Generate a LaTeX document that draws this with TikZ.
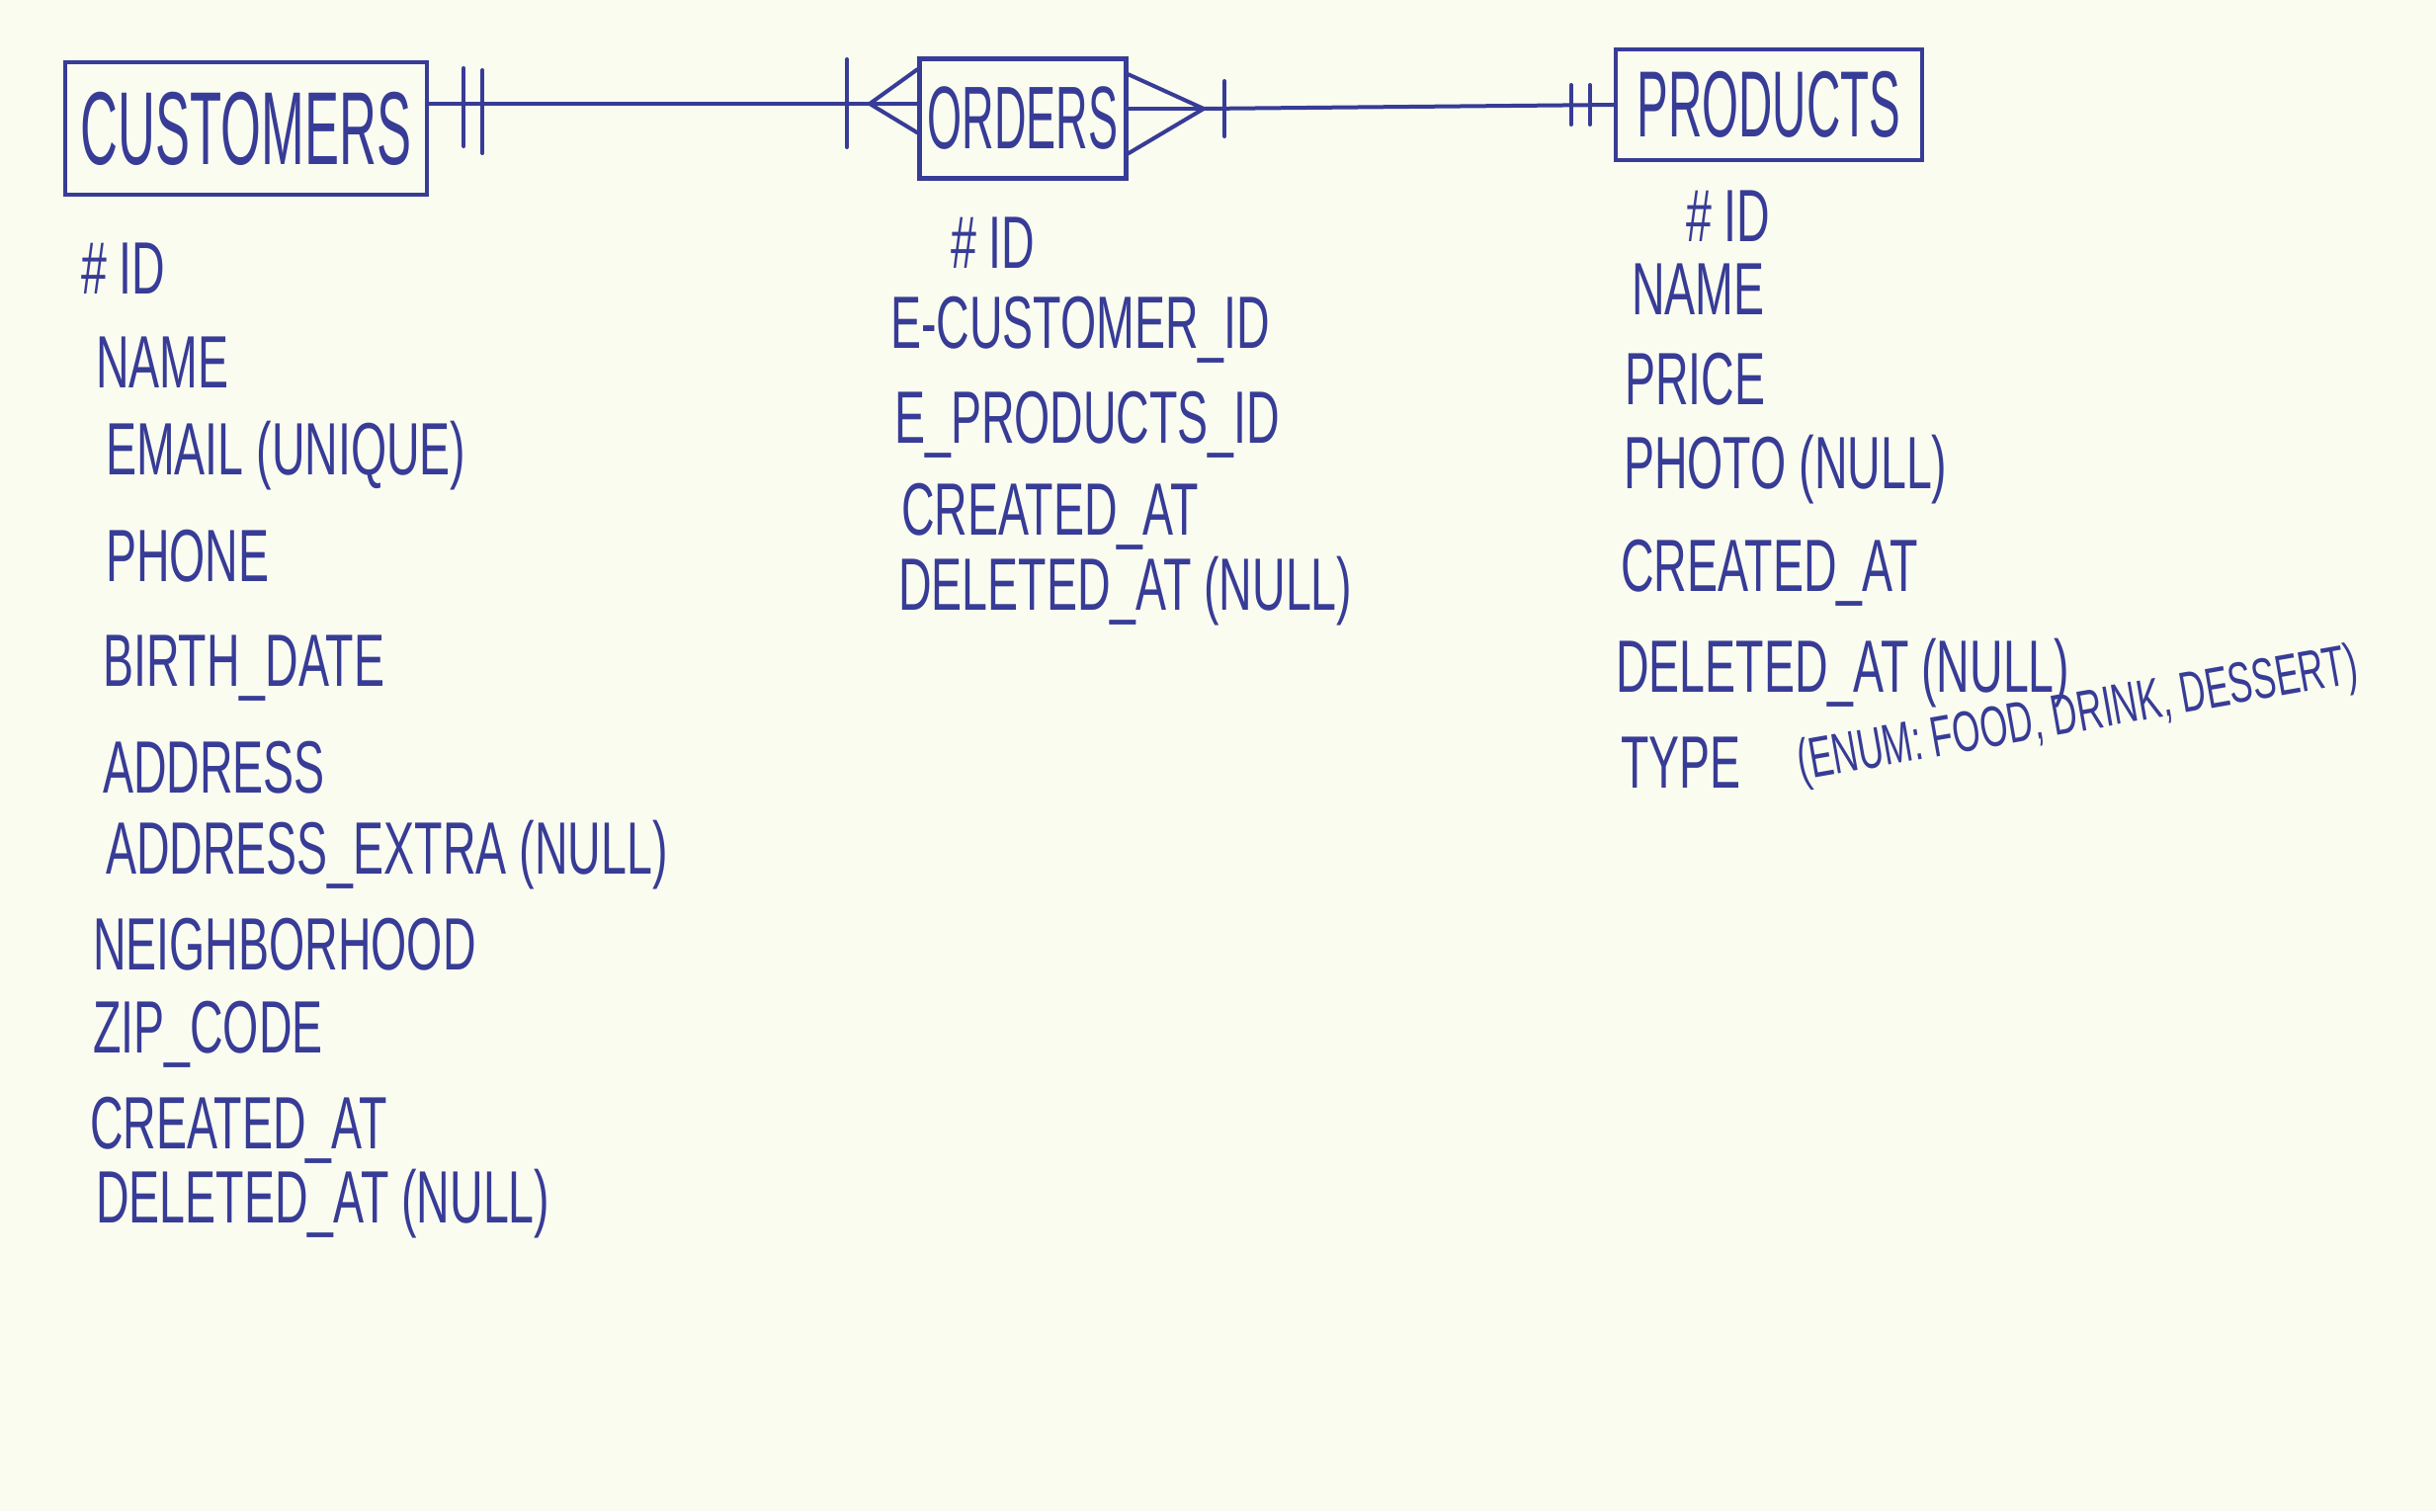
\documentclass[tikz,border=0pt]{standalone}
\usepackage{fontspec}
\setmainfont{Liberation Sans}[FakeStretch=0.62]
\newfontfamily\titlefont{Liberation Sans}[FakeStretch=0.5]
\usetikzlibrary{calc}
\definecolor{inkc}{RGB}{55,60,150}
\definecolor{paper}{RGB}{251,252,240}
\begin{document}
\begin{tikzpicture}[x=1pt,y=-1pt,
  ink/.style={draw=inkc, line width=4pt, line cap=round, line join=round},
  entity/.style={draw=inkc, line width=4.5pt, rectangle, inner sep=0pt, text=inkc},
  attr/.style={anchor=base west, text=inkc, inner sep=0pt, font=\fontsize{75}{80}\selectfont}]
\fill[paper] (0,0) rectangle (2465,1529);
\useasboundingbox (0,0) rectangle (2465,1529);

% entities
\node[entity, minimum width=366pt, minimum height=134pt, font=\titlefont\fontsize{105}{110}\selectfont] (cust) at (249,130) {CUSTOMERS};
\node[entity, minimum width=209pt, minimum height=121pt, font=\titlefont\fontsize{90}{95}\selectfont] (ord) at (1035,120) {ORDERS};
\node[entity, minimum width=310pt, minimum height=112pt, font=\titlefont\fontsize{95}{100}\selectfont] (prod) at (1790,106) {PRODUCTS};

% customers -- orders
\coordinate (oa) at (880,105);
\draw[ink] (cust.east |- oa) -- (oa);
\draw[ink] ($(cust.east |- oa)+(35,-36)$) -- ($(cust.east |- oa)+(35,43)$);
\draw[ink] ($(cust.east |- oa)+(54,-34)$) -- ($(cust.east |- oa)+(54,50)$);
\draw[ink] ($(oa)+(-23,-45)$) -- ($(oa)+(-23,44)$);
\draw[ink] (oa) -- ($(ord.north west)+(0,13)$);
\draw[ink] (oa) -- (ord.west |- oa);
\draw[ink] (oa) -- ($(ord.north west)+(0,77)$);

% orders -- products
\coordinate (ob) at (1218,110);
\draw[ink] (ob) -- ($(ord.north east)+(0,18)$);
\draw[ink] (ob) -- (ord.east |- ob);
\draw[ink] (ob) -- ($(ord.north east)+(0,98)$);
\draw[ink] ($(ob)+(21,-28)$) -- ($(ob)+(21,28)$);
\draw[ink] (ob) -- (prod.west);
\draw[ink] ($(prod.west)+(-43,-20)$) -- ($(prod.west)+(-43,20)$);
\draw[ink] ($(prod.west)+(-24,-20)$) -- ($(prod.west)+(-24,20)$);

% customers attributes
\node[attr] (c1) at (82,297) {\# ID};
\node[attr] (c2) at (97,392) {NAME};
\node[attr] (c3) at (107,480) {EMAIL (UNIQUE)};
\node[attr] (c4) at (107,588) {PHONE};
\node[attr] (c5) at (104,694) {BIRTH\_DATE};
\node[attr] (c6) at (104,802) {ADDRESS};
\node[attr] (c7) at (107,884) {ADDRESS\_EXTRA (NULL)};
\node[attr] (c8) at (94,981) {NEIGHBORHOOD};
\node[attr] (c9) at (94,1065) {ZIP\_CODE};
\node[attr] (c10) at (91,1162) {CREATED\_AT};
\node[attr] (c11) at (97,1237) {DELETED\_AT (NULL)};

% orders attributes
\node[attr] (o1) at (962,271) {\# ID};
\node[attr] (o2) at (901,352) {E-CUSTOMER\_ID};
\node[attr] (o3) at (905,448) {E\_PRODUCTS\_ID};
\node[attr] (o4) at (912,541) {CREATED\_AT};
\node[attr] (o5) at (909,617) {DELETED\_AT (NULL)};

% products attributes
\node[attr] (p1) at (1706,244) {\# ID};
\node[attr] (p2) at (1651,318) {NAME};
\node[attr] (p3) at (1644,409) {PRICE};
\node[attr] (p4) at (1643,494) {PHOTO (NULL)};
\node[attr] (p5) at (1640,598) {CREATED\_AT};
\node[attr] (p6) at (1635,700) {DELETED\_AT (NULL)};
\node[attr] (p7) at (1640,797) {TYPE};
\node[attr, rotate=10, font=\fontsize{58}{62}\selectfont] (p8) at (1822,790) {(ENUM: FOOD, DRINK, DESSERT)};
\end{tikzpicture}
\end{document}
